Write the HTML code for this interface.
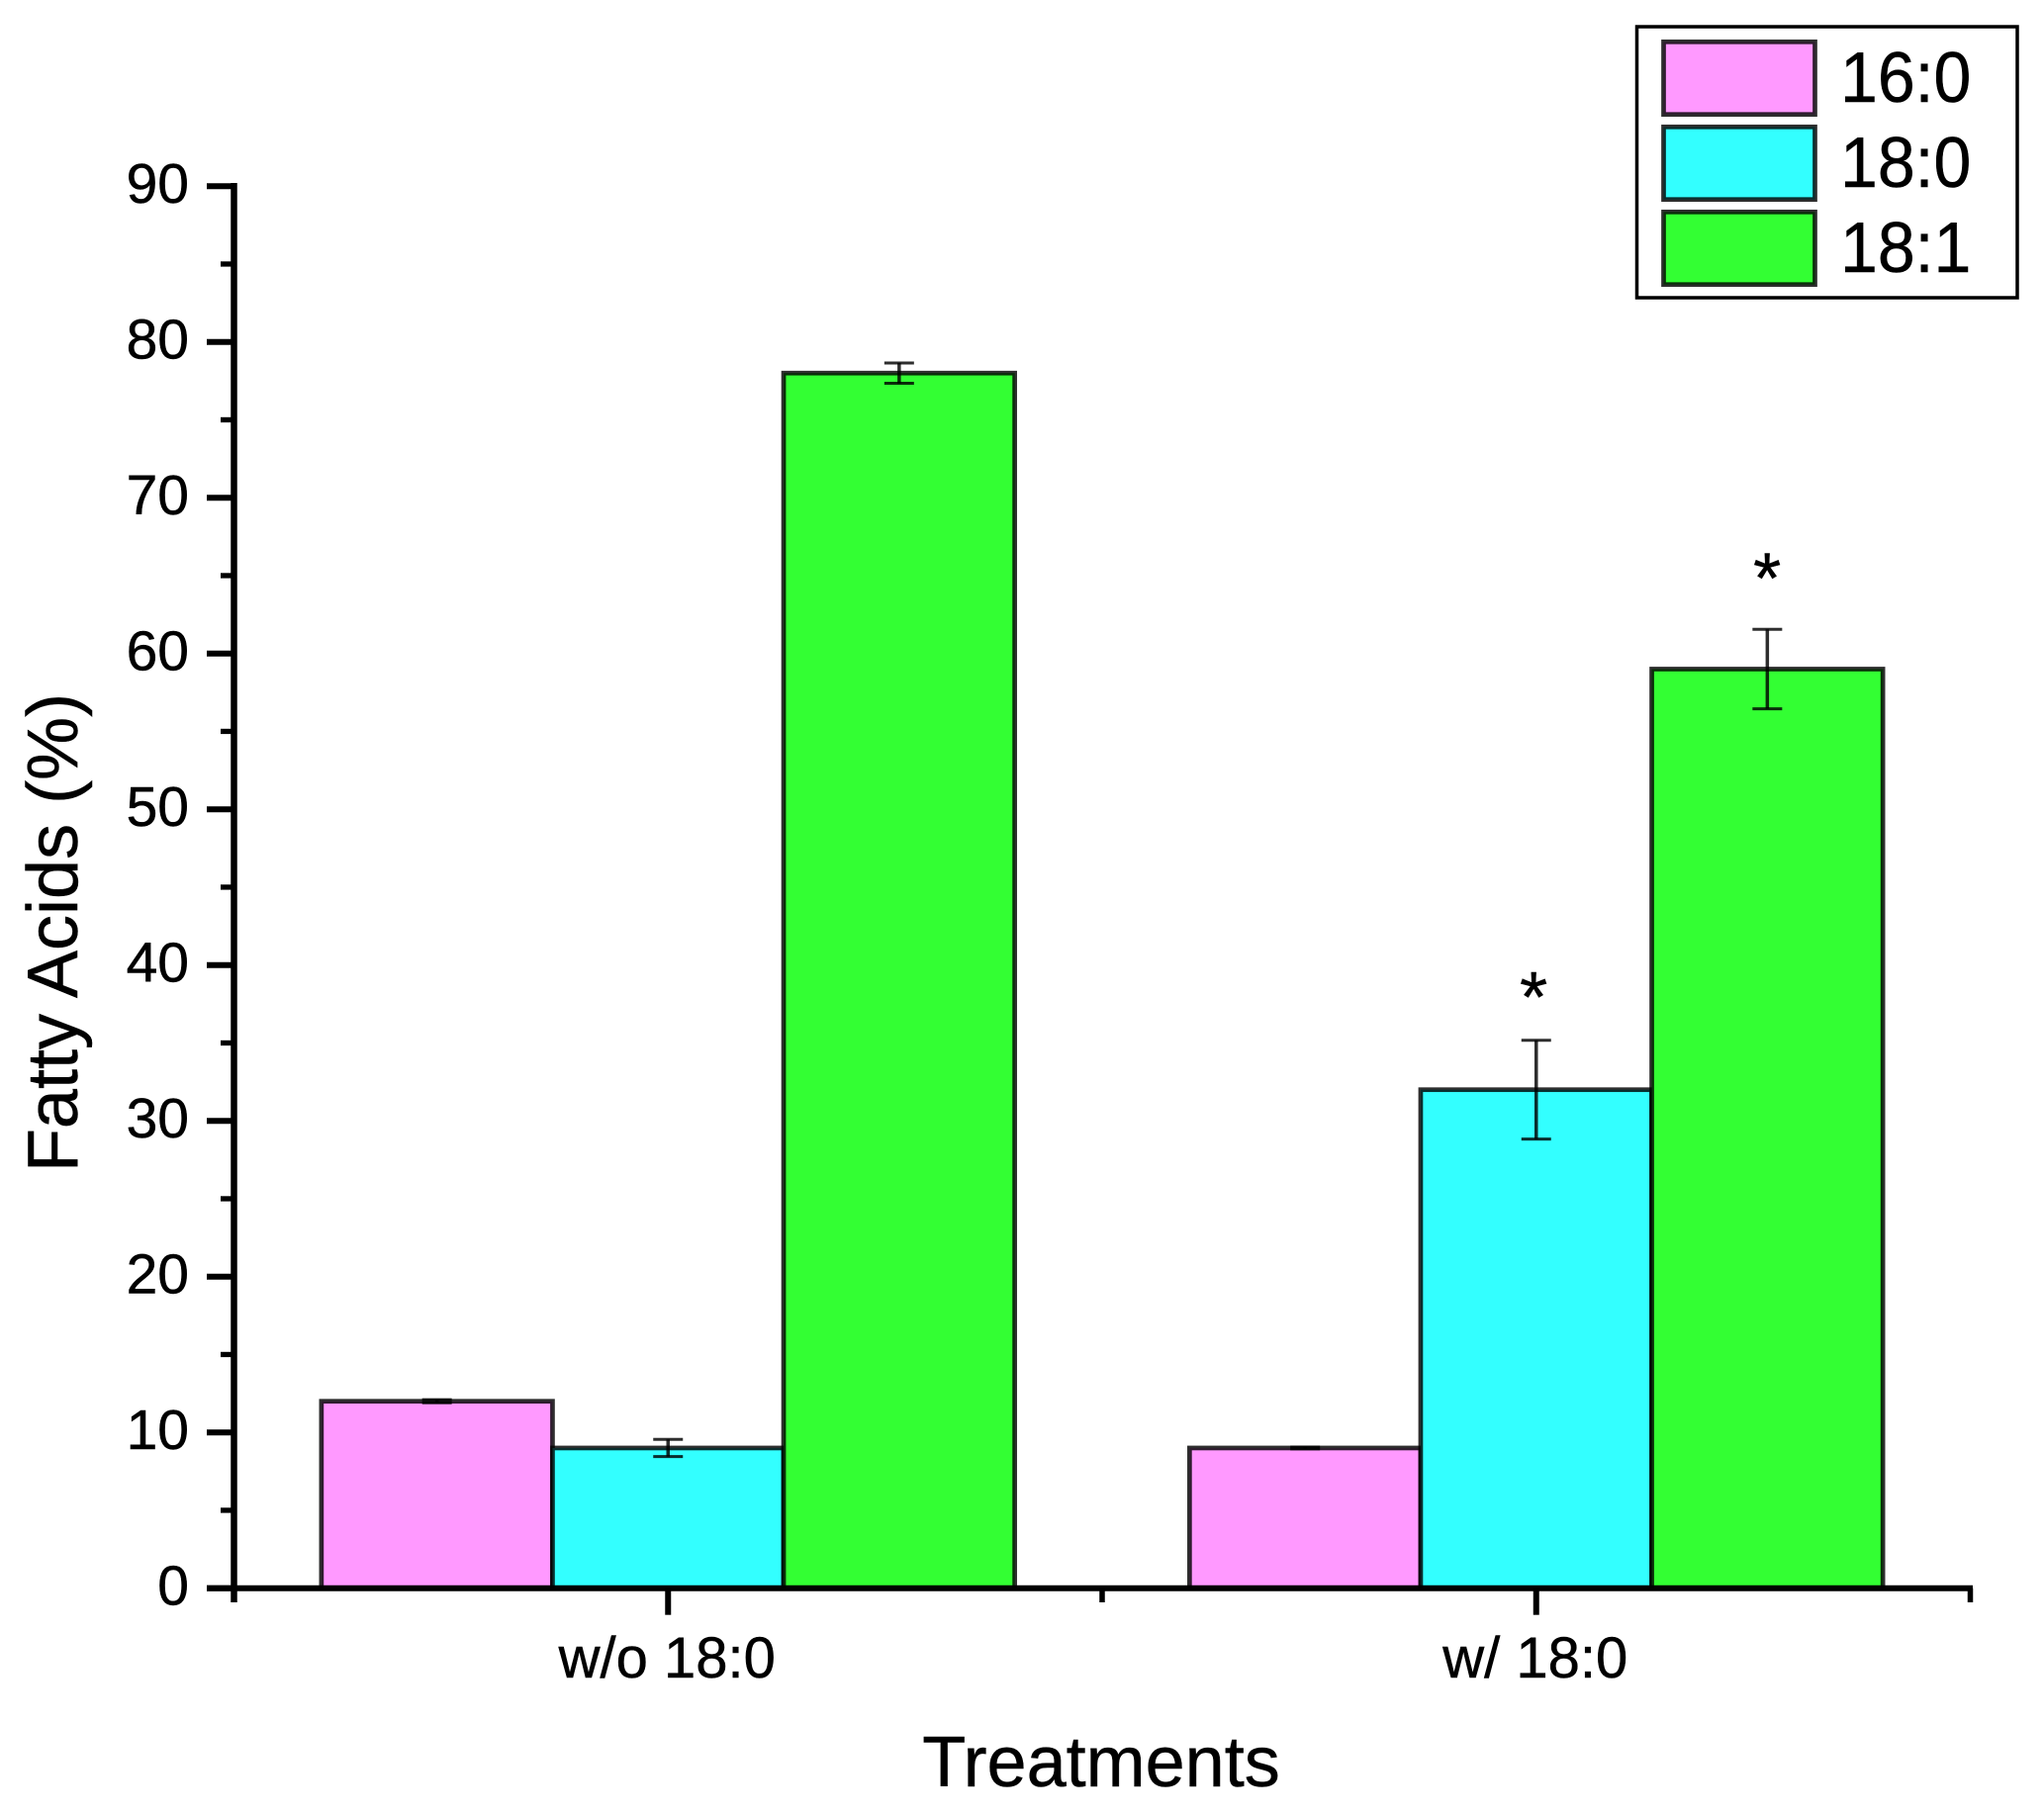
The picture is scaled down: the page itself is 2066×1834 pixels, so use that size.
<!DOCTYPE html>
<html lang="en">
<head>
<meta charset="utf-8">
<title>Fatty Acids by Treatment</title>
<style>
html,body{margin:0;padding:0;background:#fff;}
svg{display:block;font-family:"Liberation Sans",Arial,sans-serif;fill:#000;}
text{stroke:#000;stroke-width:.5px;}
</style>
</head>
<body>
<svg id="chart" xmlns="http://www.w3.org/2000/svg" width="2066" height="1834" viewBox="0 0 2066 1834">
  <rect x="0" y="0" width="2066" height="1834" fill="#fff"/>
  <g id="bars"></g>
  <g id="errors"></g>
  <g id="axes"></g>
  <g id="stars"></g>
  <text x="1113" y="1806" font-size="72" text-anchor="middle">Treatments</text>
  <text transform="translate(78,943) rotate(-90)" font-size="72" text-anchor="middle">Fatty Acids (%)</text>
  <g>
    <rect x="1654.5" y="27" width="384.5" height="274" fill="#fff" stroke="#000" stroke-width="3.5"/>
    <rect x="1681.5" y="42.3" width="153" height="73.4" fill="#FF99FF" stroke="#000" stroke-opacity=".82" stroke-width="4.7"/>
    <rect x="1681.5" y="128.3" width="153" height="73.4" fill="#33FFFF" stroke="#000" stroke-opacity=".82" stroke-width="4.7"/>
    <rect x="1681.5" y="214.3" width="153" height="73.4" fill="#33FF33" stroke="#000" stroke-opacity=".82" stroke-width="4.7"/>
    <text transform="translate(1860,103) scale(.945,1)" font-size="72">16:0</text>
    <text transform="translate(1860,189) scale(.945,1)" font-size="72">18:0</text>
    <text transform="translate(1860,275) scale(.945,1)" font-size="72">18:1</text>
  </g>
</svg>
<script>
const categories = ['w/o 18:0', 'w/ 18:0'];
const seriesNames = ['16:0', '18:0', '18:1'];
const seriesColors = ['#FF99FF', '#33FFFF', '#33FF33'];
const values160 = [12, 9];
const values180 = [9, 32];
const values181 = [78, 59];
const errors160 = [0.1, 0.06];
const errors180 = [0.55, 3.17];
const errors181 = [0.65, 2.55];
const yMajorTicks = [0, 10, 20, 30, 40, 50, 60, 70, 80, 90];
const yMinorTicks = [5, 15, 25, 35, 45, 55, 65, 75, 85];
const xMinorTicks = [0.5, 1.5, 2.5];
const starPositions = [1.997, 2.266];
const starValues = [36.35, 63.25];

const seriesValues = [values160, values180, values181];
const seriesErrors = [errors160, errors180, errors181];

const NS = 'http://www.w3.org/2000/svg';
const x = v => 236.5 + (v - 0.5) * 877.5;
const y = v => 1605.7 - v * 15.75;
const barUnits = 0.2662;

function mk(parent, tag, attrs, text) {
  const el = document.createElementNS(NS, tag);
  for (const k in attrs) el.setAttribute(k, attrs[k]);
  if (text !== undefined) el.textContent = text;
  parent.appendChild(el);
  return el;
}
const barsG = document.getElementById('bars');
const errG = document.getElementById('errors');
const axesG = document.getElementById('axes');
const starsG = document.getElementById('stars');

seriesValues.forEach((vals, s) => {
  vals.forEach((v, c) => {
    const center = x(c + 1) + (s - 1) * barUnits * 877.5;
    const half = barUnits * 877.5 / 2;
    const bar = mk(barsG, 'rect', {x: center - half, y: y(v), width: half * 2, height: y(0) - y(v), fill: seriesColors[s], stroke: '#000', 'stroke-opacity': 0.82, 'stroke-width': 4.7});
    
    

    const e = seriesErrors[s][c];
    const eg = mk(errG, 'g', {stroke: '#000', 'stroke-opacity': 0.82});
    
    
    mk(eg, 'line', {x1: center, x2: center, y1: y(v + e), y2: y(v - e), 'stroke-width': 3.5});
    mk(eg, 'line', {x1: center - 15, x2: center + 15, y1: y(v + e), y2: y(v + e), 'stroke-width': 3});
    mk(eg, 'line', {x1: center - 15, x2: center + 15, y1: y(v - e), y2: y(v - e), 'stroke-width': 3});
  });
});

const yAxisLine = mk(axesG, 'line', {x1: 236.5, x2: 236.5, y1: 185, y2: 1620, stroke: '#000', 'stroke-width': 6.5});


const xAxisLine = mk(axesG, 'line', {x1: 209, x2: 1994, y1: y(0), y2: y(0), stroke: '#000', 'stroke-width': 6});



yMajorTicks.forEach(t => {
  const tick = mk(axesG, 'line', {x1: 209, x2: 236, y1: y(t), y2: y(t), stroke: '#000', 'stroke-width': 6});
  
  
  const label = mk(axesG, 'text', {x: 191, y: y(t) + 17, 'font-size': 57, 'text-anchor': 'end'}, String(t));
  
  
});
yMinorTicks.forEach(t => {
  const tick = mk(axesG, 'line', {x1: 223, x2: 236, y1: y(t), y2: y(t), stroke: '#000', 'stroke-width': 5.3});
  
  
});
xMinorTicks.forEach(t => {
  const tick = mk(axesG, 'line', {x1: x(t), x2: x(t), y1: y(0), y2: 1620, stroke: '#000', 'stroke-width': 5.5});
  
  
});
categories.forEach((cat, i) => {
  const tick = mk(axesG, 'line', {x1: x(i + 1), x2: x(i + 1), y1: y(0), y2: 1632.7, stroke: '#000', 'stroke-width': 6});
  
  
  const label = mk(axesG, 'text', {x: x(i + 1) - 1, y: 1696, 'font-size': 58, 'text-anchor': 'middle'}, cat);
  
  
});
starValues.forEach((v, i) => {
  const star = mk(starsG, 'text', {x: x(starPositions[i]), y: y(v), 'font-size': 72, 'text-anchor': 'middle', 'stroke-width': 1.2}, '*');
  
  
});
</script>
</body>
</html>
